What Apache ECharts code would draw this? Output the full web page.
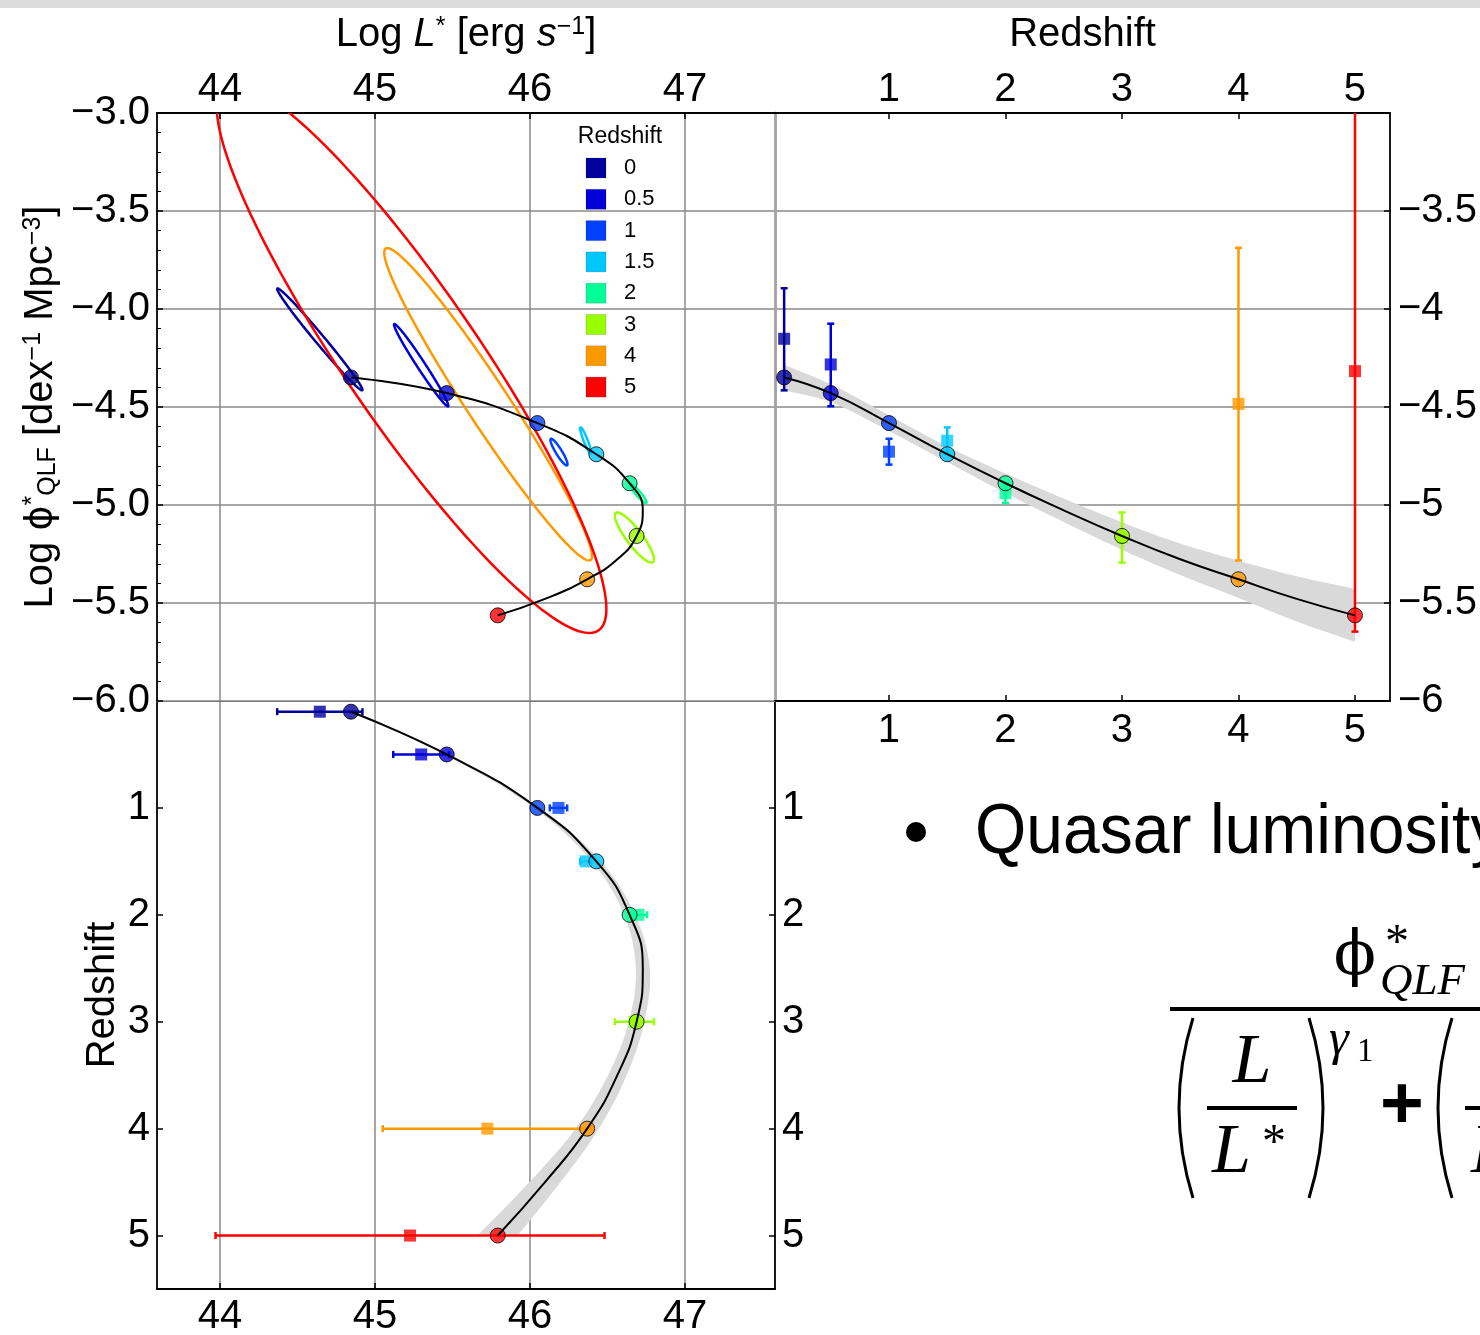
<!DOCTYPE html>
<html><head><meta charset="utf-8">
<script src="https://cdn.jsdelivr.net/npm/echarts@6/dist/echarts.min.js"></script>
<style>html,body{margin:0;padding:0;background:#fff}#c{width:1480px;height:1335px}</style>
</head><body><div id="c"></div><script>
// ---------- data ----------
const legendLabels = ['0', '0.5', '1', '1.5', '2', '3', '4', '5'];
const colors = ['#00009c', '#0000d8', '#0040ff', '#00c8ff', '#00ff99', '#99ff00', '#ff9900', '#ff0000'];
// best-fit points (circles)
const fitZ = [0.1, 0.5, 1, 1.5, 2, 3, 4, 5];
const fitLogL = [44.845, 45.463, 46.048, 46.428, 46.643, 46.688, 46.369, 45.792];
const fitLogPhi = [-4.349, -4.429, -4.582, -4.741, -4.889, -5.158, -5.379, -5.563];
// fitted curve and its uncertainty band
const curveZ = [0.1, 0.5, 1, 1.5, 2, 2.5, 3, 3.5, 4, 4.5, 5];
const curveLogL = [44.845, 45.463, 46.048, 46.428, 46.643, 46.728, 46.688, 46.564, 46.369, 46.097, 45.792];
const curveLogPhi = [-4.349, -4.429, -4.582, -4.741, -4.889, -5.027, -5.158, -5.277, -5.379, -5.479, -5.563];
const phiBandHalf = [0.065, 0.045, 0.04, 0.04, 0.05, 0.06, 0.07, 0.08, 0.095, 0.115, 0.135];
const lBandHalf = [0.01, 0.015, 0.02, 0.03, 0.035, 0.045, 0.05, 0.06, 0.075, 0.1, 0.13];
// measured points (squares) with error bars
const dataZ = [0.1, 0.5, 1, 1.5, 2, 3, 4, 5];
const dataLogL = [44.644, 45.298, 46.184, 46.36, 46.70, 46.674, 45.725, 45.226];
const dataLogLErr = [0.275, 0.18, 0.056, 0.036, 0.056, 0.126, 0.675, 1.255];
const dataLogPhi = [-4.152, -4.283, -4.728, -4.672, -4.94, -5.166, -4.484, -4.317];
const dataLogPhiLo = [-4.415, -4.496, -4.794, -4.74, -4.99, -5.294, -5.283, -5.646];
const dataLogPhiHi = [-3.894, -4.075, -4.662, -4.604, -4.89, -5.038, -3.688, -2.7];
// confidence ellipses in the L*-phi* plane: centre, half extents, correlation
const ellLogL = [44.644, 45.298, 46.187, 46.36, 46.697, 46.674, 45.73, 45.236];
const ellLogPhi = [-4.155, -4.287, -4.73, -4.672, -4.94, -5.166, -4.486, -4.25];
const ellSigL = [0.275, 0.175, 0.055, 0.036, 0.055, 0.126, 0.67, 1.257];
const ellSigPhi = [0.26, 0.21, 0.068, 0.068, 0.05, 0.128, 0.797, 1.403];
const ellCorr = [-0.99, -0.984, -0.91, -0.92, -0.93, -0.87, -0.97, -0.912];
// tick values
const lumTicks = [44, 45, 46, 47];
const zTicks = [1, 2, 3, 4, 5];

// ---------- layout / style ----------
const FONT = 'Liberation Sans';
const GRIDC = '#8a8a8a';
const LMIN = 43.5935, LMAX = 47.581;
const ZMIN = 0.0215, ZMAX = 5.3005;
const lab = {fontFamily: FONT, fontSize: 40, color: '#000'};
const blackLine = {show: true, onZero: false, lineStyle: {color: '#000', width: 1.8}};
const grayLine = (c, w) => ({show: true, onZero: false, lineStyle: {color: c, width: w}});
const tick = {show: true, inside: true, length: 6, lineStyle: {color: '#000', width: 1.5}};
const minus = s => String(s).replace('-', '\u2212');

const chart = echarts.init(document.getElementById('c'), null, {renderer: 'canvas'});

const circleItems = (xs, ys) => xs.map((x, i) => ({value: [x, ys[i]], itemStyle: {color: colors[i], borderColor: '#000', borderWidth: 1}}));
const squareItems = (xs, ys) => xs.map((x, i) => ({value: [x, ys[i]], itemStyle: {color: colors[i]}}));
// duplicate the corner points so the smoothed band keeps square ends
const bandPoints = (a, b) => [a[0]].concat(a, [a[a.length - 1]], [b[0]], b, [b[b.length - 1]]);

const option = {
  backgroundColor: '#fff',
  animation: false,
  grid: [
    {left: 157, top: 113, width: 618, height: 588, outerBoundsMode: 'none', containLabel: false},
    {left: 775, top: 113, width: 615, height: 588, outerBoundsMode: 'none', containLabel: false},
    {left: 157, top: 701, width: 618, height: 588, outerBoundsMode: 'none', containLabel: false}
  ],
  xAxis: [
    {gridIndex: 0, type: 'value', position: 'top', min: LMIN, max: LMAX,
      axisLine: blackLine, axisTick: Object.assign({customValues: lumTicks}, tick),
      axisLabel: Object.assign({customValues: lumTicks, margin: 3}, lab),
      splitLine: {show: true, lineStyle: {color: GRIDC, width: 1.5}},
      name: '{t|Log }{i|L}{sup|*}{t| [erg }{i|s}{sup|\u22121}{t|]}', nameLocation: 'middle', nameGap: 58, nameMoveOverlap: false,
      nameTextStyle: {rich: {
        t: {fontFamily: FONT, fontSize: 40, color: '#000'},
        i: {fontFamily: FONT, fontSize: 40, fontStyle: 'italic', color: '#000'},
        sup: {fontFamily: FONT, fontSize: 25, color: '#000', verticalAlign: 'top'}
      }}},
    {gridIndex: 0, type: 'value', position: 'bottom', min: LMIN, max: LMAX,
      axisLine: grayLine('#777', 1), axisTick: {show: false}, axisLabel: {show: false}, splitLine: {show: false}},
    {gridIndex: 1, type: 'value', position: 'top', min: ZMIN, max: ZMAX,
      axisLine: blackLine, axisTick: Object.assign({customValues: zTicks}, tick),
      axisLabel: Object.assign({customValues: zTicks, margin: 3}, lab),
      splitLine: {show: false},
      name: 'Redshift', nameLocation: 'middle', nameGap: 58, nameMoveOverlap: false, nameTextStyle: lab},
    {gridIndex: 1, type: 'value', position: 'bottom', min: ZMIN, max: ZMAX,
      axisLine: blackLine, axisTick: Object.assign({customValues: zTicks}, tick),
      axisLabel: Object.assign({customValues: zTicks, margin: 10}, lab),
      splitLine: {show: false}},
    {gridIndex: 2, type: 'value', position: 'bottom', min: LMIN, max: LMAX,
      axisLine: blackLine, axisTick: Object.assign({customValues: lumTicks}, tick),
      axisLabel: Object.assign({customValues: lumTicks, margin: 8}, lab),
      splitLine: {show: true, lineStyle: {color: GRIDC, width: 1.5}}},
    {gridIndex: 2, type: 'value', position: 'top', min: LMIN, max: LMAX,
      axisLine: grayLine('#777', 1), axisTick: {show: false}, axisLabel: {show: false}, splitLine: {show: false}}
  ],
  yAxis: [
    {gridIndex: 0, type: 'value', position: 'left', min: -6, max: -3, interval: 0.5,
      axisLine: blackLine, axisTick: tick,
      minorTick: {show: true, splitNumber: 5, length: 4, lineStyle: {color: '#000', width: 1}},
      axisLabel: Object.assign({margin: 7, formatter: v => minus(v.toFixed(1))}, lab),
      splitLine: {show: true, lineStyle: {color: GRIDC, width: 1.5}},
      name: '{t|Log }{phi|\u03d5}{sup|*}{sub|QLF}{t| [dex}{sup|\u22121}{t| Mpc}{sup|\u22123}{t|]}',
      nameLocation: 'middle', nameGap: 96, nameMoveOverlap: false,
      nameTextStyle: {rich: {
        t: {fontFamily: FONT, fontSize: 40, color: '#000'},
        phi: {fontFamily: 'DejaVu Sans', fontSize: 38, color: '#000'},
        sup: {fontFamily: FONT, fontSize: 25, color: '#000', verticalAlign: 'top'},
        sub: {fontFamily: FONT, fontSize: 25, color: '#000', verticalAlign: 'bottom'}
      }}},
    {gridIndex: 0, type: 'value', position: 'right', min: -6, max: -3,
      axisLine: grayLine('#a5a5a5', 2.5), axisTick: {show: false}, axisLabel: {show: false}, splitLine: {show: false}},
    {gridIndex: 1, type: 'value', position: 'right', min: -6, max: -3, interval: 0.5,
      axisLine: blackLine, axisTick: tick,
      axisLabel: Object.assign({margin: 8, formatter: v => (v === -3 ? '' : minus(v))}, lab),
      splitLine: {show: true, lineStyle: {color: GRIDC, width: 1.5}}},
    {gridIndex: 1, type: 'value', position: 'left', min: -6, max: -3,
      axisLine: grayLine('#a5a5a5', 2.5), axisTick: {show: false}, axisLabel: {show: false}, splitLine: {show: false}},
    {gridIndex: 2, type: 'value', position: 'left', min: 0, max: 5.5, inverse: true,
      axisLine: blackLine, axisTick: Object.assign({customValues: zTicks}, tick),
      axisLabel: Object.assign({customValues: zTicks, margin: 7}, lab),
      splitLine: {show: false},
      name: 'Redshift', nameLocation: 'middle', nameGap: 34, nameMoveOverlap: false, nameTextStyle: lab},
    {gridIndex: 2, type: 'value', position: 'right', min: 0, max: 5.5, inverse: true,
      axisLine: blackLine, axisTick: Object.assign({customValues: zTicks}, tick),
      axisLabel: Object.assign({customValues: zTicks, margin: 7}, lab),
      splitLine: {show: false}}
  ],
  series: [
    // ---- top-left: L* vs phi* ----
    {type: 'custom', xAxisIndex: 0, yAxisIndex: 0, clip: true,
      data: ellLogL.map((l, i) => [l, ellLogPhi[i], i]),
      renderItem: (params, api) => {
        const i = api.value(2);
        const r = ellCorr[i], s = Math.sqrt(1 - r * r);
        const pts = [];
        for (let k = 0; k < 180; k++) {
          const t = 2 * Math.PI * k / 180, c = Math.cos(t), sn = Math.sin(t);
          pts.push(api.coord([ellLogL[i] + ellSigL[i] * c, ellLogPhi[i] + ellSigPhi[i] * (r * c + s * sn)]));
        }
        return {type: 'polygon', shape: {points: pts}, style: {fill: 'none', stroke: colors[i], lineWidth: 2.5}};
      }},
    {type: 'line', xAxisIndex: 0, yAxisIndex: 0, smooth: 0.5, symbol: 'none',
      lineStyle: {color: '#000', width: 2}, data: curveLogL.map((l, i) => [l, curveLogPhi[i]])},
    {type: 'scatter', xAxisIndex: 0, yAxisIndex: 0, symbol: 'circle', symbolSize: 15, data: circleItems(fitLogL, fitLogPhi)},

    // ---- top-right: z vs phi* ----
    {type: 'custom', xAxisIndex: 2, yAxisIndex: 2, clip: true, data: [[1, -5]],
      renderItem: (params, api) => {
        const up = curveZ.map((z, i) => api.coord([z, curveLogPhi[i] + phiBandHalf[i]]));
        const lo = curveZ.map((z, i) => api.coord([z, curveLogPhi[i] - phiBandHalf[i]])).reverse();
        return {type: 'polygon', shape: {points: bandPoints(up, lo), smooth: 0.35}, style: {fill: '#d9d9d9'}};
      }},
    {type: 'custom', xAxisIndex: 2, yAxisIndex: 2, clip: true,
      data: dataZ.map((z, i) => [z, dataLogPhi[i], i]),
      renderItem: (params, api) => {
        const i = api.value(2);
        const a = api.coord([dataZ[i], dataLogPhiHi[i]]);
        const b = api.coord([dataZ[i], dataLogPhiLo[i]]);
        const w = 3.5, st = {stroke: colors[i], lineWidth: 2.5};
        return {type: 'group', children: [
          {type: 'line', shape: {x1: a[0], y1: a[1], x2: b[0], y2: b[1]}, style: st},
          {type: 'line', shape: {x1: a[0] - w, y1: a[1], x2: a[0] + w, y2: a[1]}, style: st},
          {type: 'line', shape: {x1: b[0] - w, y1: b[1], x2: b[0] + w, y2: b[1]}, style: st}
        ]};
      }},
    {type: 'scatter', xAxisIndex: 2, yAxisIndex: 2, symbol: 'rect', symbolSize: 12, data: squareItems(dataZ, dataLogPhi)},
    {type: 'line', xAxisIndex: 2, yAxisIndex: 2, smooth: 0.5, symbol: 'none',
      lineStyle: {color: '#000', width: 2}, data: curveZ.map((z, i) => [z, curveLogPhi[i]])},
    {type: 'scatter', xAxisIndex: 2, yAxisIndex: 2, symbol: 'circle', symbolSize: 15, data: circleItems(fitZ, fitLogPhi)},

    // ---- bottom-left: L* vs z ----
    {type: 'custom', xAxisIndex: 4, yAxisIndex: 4, clip: true, data: [[45, 1]],
      renderItem: (params, api) => {
        const r = curveZ.map((z, i) => api.coord([curveLogL[i] + lBandHalf[i], z]));
        const l = curveZ.map((z, i) => api.coord([curveLogL[i] - lBandHalf[i], z])).reverse();
        return {type: 'polygon', shape: {points: bandPoints(r, l), smooth: 0.35}, style: {fill: '#d9d9d9'}};
      }},
    {type: 'custom', xAxisIndex: 4, yAxisIndex: 4, clip: true,
      data: dataZ.map((z, i) => [dataLogL[i], z, i]),
      renderItem: (params, api) => {
        const i = api.value(2);
        const a = api.coord([dataLogL[i] - dataLogLErr[i], dataZ[i]]);
        const b = api.coord([dataLogL[i] + dataLogLErr[i], dataZ[i]]);
        const w = 3.5, st = {stroke: colors[i], lineWidth: 2.5};
        return {type: 'group', children: [
          {type: 'line', shape: {x1: a[0], y1: a[1], x2: b[0], y2: b[1]}, style: st},
          {type: 'line', shape: {x1: a[0], y1: a[1] - w, x2: a[0], y2: a[1] + w}, style: st},
          {type: 'line', shape: {x1: b[0], y1: b[1] - w, x2: b[0], y2: b[1] + w}, style: st}
        ]};
      }},
    {type: 'scatter', xAxisIndex: 4, yAxisIndex: 4, symbol: 'rect', symbolSize: 12, data: squareItems(dataLogL, dataZ)},
    {type: 'line', xAxisIndex: 4, yAxisIndex: 4, smooth: 0.5, symbol: 'none',
      lineStyle: {color: '#000', width: 2}, data: curveLogL.map((l, i) => [l, curveZ[i]])},
    {type: 'scatter', xAxisIndex: 4, yAxisIndex: 4, symbol: 'circle', symbolSize: 15, data: circleItems(fitLogL, fitZ)}
  ],
  graphic: []
};

// ---- decorations: top bar, legend, slide text & formula ----
const g = option.graphic;
g.push({type: 'rect', shape: {x: 0, y: 0, width: 1480, height: 8}, style: {fill: '#dcdcdc'}, silent: true});
g.push({type: 'text', style: {text: 'Redshift', x: 620, y: 137, font: '23px "Liberation Sans"', fill: '#000', textAlign: 'center', textVerticalAlign: 'middle'}});
legendLabels.forEach((t, i) => {
  const y = 168 + 31.3 * i;
  g.push({type: 'rect', shape: {x: 586, y: y - 10, width: 20, height: 20}, style: {fill: colors[i], stroke: 'rgba(0,0,0,0.15)', lineWidth: 1}, z: 10});
  g.push({type: 'text', style: {text: t, x: 624, y: y, font: '22px "Liberation Sans"', fill: '#000', textAlign: 'left', textVerticalAlign: 'middle'}, z: 10});
});
// bullet line
g.push({type: 'circle', shape: {cx: 916, cy: 832, r: 10}, style: {fill: '#000'}});
g.push({type: 'text', x: 975, y: 833, scaleX: 0.93, style: {text: 'Quasar luminosity', x: 0, y: 0, font: '71px "Liberation Sans"', fill: '#000', textAlign: 'left', textVerticalAlign: 'middle'}});
// formula
const serif = '"Liberation Serif"';
const paren = (xEnd, xMid) => ({type: 'bezierCurve', shape: {x1: xEnd, y1: 1018, x2: xEnd, y2: 1198, cpx1: 2 * xMid - xEnd, cpy1: 1108}, style: {stroke: '#000', lineWidth: 3, fill: 'none'}});
g.push({type: 'text', style: {text: '\u03d5', x: 1355, y: 958, font: '62px "DejaVu Serif"', fill: '#000', textAlign: 'center', textVerticalAlign: 'middle'}});
g.push({type: 'text', style: {text: '*', x: 1397, y: 944, font: '48px ' + serif, fill: '#000', textAlign: 'center', textVerticalAlign: 'middle'}});
g.push({type: 'text', style: {text: 'QLF', x: 1380, y: 982, font: 'italic 45px ' + serif, fill: '#000', textAlign: 'left', textVerticalAlign: 'middle'}});
g.push({type: 'rect', shape: {x: 1170, y: 1007, width: 320, height: 4}, style: {fill: '#000'}});
g.push(paren(1193, 1179));
g.push(paren(1309, 1323));
g.push(paren(1452, 1438));
g.push({type: 'text', style: {text: 'L', x: 1252, y: 1064, font: 'italic 70px ' + serif, fill: '#000', textAlign: 'center', textVerticalAlign: 'middle'}});
g.push({type: 'rect', shape: {x: 1207, y: 1106, width: 90, height: 4}, style: {fill: '#000'}});
g.push({type: 'text', style: {text: 'L', x: 1212, y: 1154, font: 'italic 70px ' + serif, fill: '#000', textAlign: 'left', textVerticalAlign: 'middle'}});
g.push({type: 'text', style: {text: '*', x: 1274, y: 1144, font: '48px ' + serif, fill: '#000', textAlign: 'center', textVerticalAlign: 'middle'}});
g.push({type: 'text', style: {text: '\u03b3', x: 1329, y: 1041, font: 'italic 50px ' + serif, fill: '#000', textAlign: 'left', textVerticalAlign: 'middle'}});
g.push({type: 'text', style: {text: '1', x: 1357, y: 1052, font: '33px ' + serif, fill: '#000', textAlign: 'left', textVerticalAlign: 'middle'}});
g.push({type: 'text', style: {text: '+', x: 1402, y: 1107, font: 'bold 75px "Liberation Sans"', fill: '#000', textAlign: 'center', textVerticalAlign: 'middle'}});
g.push({type: 'rect', shape: {x: 1465, y: 1106, width: 20, height: 4}, style: {fill: '#000'}});
g.push({type: 'text', style: {text: 'L', x: 1471, y: 1154, font: 'italic 70px ' + serif, fill: '#000', textAlign: 'left', textVerticalAlign: 'middle'}});

chart.setOption(option);
</script></body></html>
